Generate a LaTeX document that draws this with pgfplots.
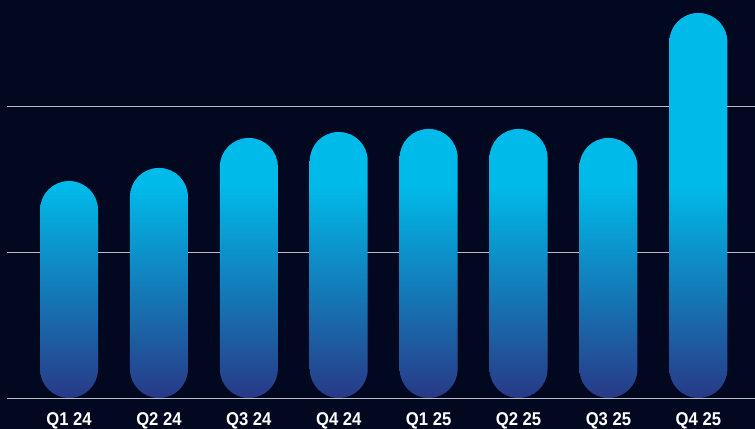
\documentclass[border=0pt]{standalone}
\usepackage{pgfplots}
\pgfplotsset{compat=1.18}
\usepackage{fontspec}
\setmainfont{Liberation Sans}
\newfontfamily\lbl[FakeStretch=0.9]{Liberation Sans}

\definecolor{bg}{RGB}{2,8,32}
\definecolor{gridc}{RGB}{185,188,196}
\definecolor{barTop}{RGB}{0,187,234}
\definecolor{barBot}{RGB}{40,57,134}

% the gradient follows the page height: dark at 0, full cyan from ~1.47 up,
% so each bar gets its own stop (25bp = bar bottom, 75bp = bar top)
\pgfdeclareverticalshading{sA}{100bp}{color(0bp)=(barBot); color(25bp)=(barBot); color(74.3bp)=(barTop); color(100bp)=(barTop)}
\pgfdeclareverticalshading{sB}{100bp}{color(0bp)=(barBot); color(25bp)=(barBot); color(71.5bp)=(barTop); color(100bp)=(barTop)}
\pgfdeclareverticalshading{sC}{100bp}{color(0bp)=(barBot); color(25bp)=(barBot); color(66.1bp)=(barTop); color(100bp)=(barTop)}
\pgfdeclareverticalshading{sD}{100bp}{color(0bp)=(barBot); color(25bp)=(barBot); color(65.2bp)=(barTop); color(100bp)=(barTop)}
\pgfdeclareverticalshading{sE}{100bp}{color(0bp)=(barBot); color(25bp)=(barBot); color(64.8bp)=(barTop); color(100bp)=(barTop)}
\pgfdeclareverticalshading{sH}{100bp}{color(0bp)=(barBot); color(25bp)=(barBot); color(52.8bp)=(barTop); color(100bp)=(barTop)}

\begin{document}
\begin{tikzpicture}
\useasboundingbox (0,0) rectangle (755bp,429bp);
\clip (0,0) rectangle (755bp,429bp);
\fill[bg] (0,0) rectangle (755bp,429bp);
\begin{axis}[
    at={(7bp,31bp)}, anchor=south west,
    scale only axis,
    width=748bp, height=395.8bp,
    ybar,
    bar width=58bp,
    xmin=-0.69, xmax=7.63,
    ymin=0, ymax=2.72,
    xtick={0,...,7},
    xticklabels={Q1 24,Q2 24,Q3 24,Q4 24,Q1 25,Q2 25,Q3 25,Q4 25},
    ytick={0,1,2},
    yticklabels={},
    ymajorgrids,
    grid style={gridc, line width=1bp},
    axis line style={draw=none},
    tick style={draw=none},
    xticklabel style={font=\lbl\bfseries\fontsize{18.5bp}{22bp}\selectfont,
        text=white, anchor=base, inner sep=0pt, yshift=-23bp},
    pill/.style={draw=none, bar shift=0pt, rounded corners=28.9bp},
]
\addplot[pill, shading=sA] coordinates {(0,1.491)};
\addplot[pill, shading=sB] coordinates {(1,1.581)};
\addplot[pill, shading=sC] coordinates {(2,1.787)};
\addplot[pill, shading=sD] coordinates {(3,1.828)};
\addplot[pill, shading=sE] coordinates {(4,1.849)};
\addplot[pill, shading=sE] coordinates {(5,1.849)};
\addplot[pill, shading=sC] coordinates {(6,1.787)};
\addplot[pill, shading=sH] coordinates {(7,2.646)};
\end{axis}
\end{tikzpicture}
\end{document}
